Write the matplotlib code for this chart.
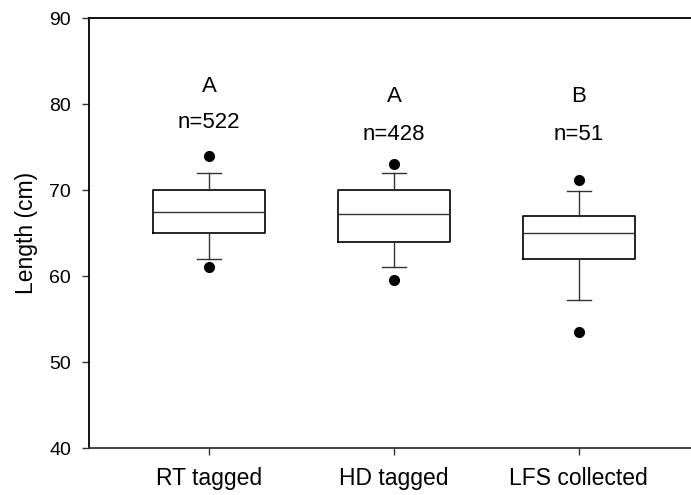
import matplotlib
matplotlib.use("Agg")
import matplotlib.pyplot as plt

plt.rcParams["font.family"] = ["Liberation Sans", "DejaVu Sans"]

# Groups and summary statistics (cm)
groups = ["RT tagged", "HD tagged", "LFS collected"]
medians = [67.5, 67.2, 65.0]
q1 = [65.0, 64.0, 62.0]
q3 = [70.0, 70.0, 67.0]
whisker_low = [62.0, 61.0, 57.2]
whisker_high = [72.0, 72.0, 69.9]
outliers_low = [61.0, 59.5, 53.5]
outliers_high = [74.0, 73.0, 71.2]
letters = ["A", "A", "B"]
letter_y = [82.0, 80.9, 80.9]
counts = [522, 428, 51]
count_y = [77.9, 76.5, 76.5]

stats = []
for i, g in enumerate(groups):
    stats.append({
        "label": g,
        "med": medians[i],
        "q1": q1[i],
        "q3": q3[i],
        "whislo": whisker_low[i],
        "whishi": whisker_high[i],
        "fliers": [outliers_low[i], outliers_high[i]],
    })

fig = plt.figure(figsize=(6.91, 4.95), dpi=100)
ax = fig.add_axes([0.1288, 0.0949, 0.8828, 0.8687])

positions = [1, 2, 3]
ax.bxp(
    stats,
    positions=positions,
    widths=0.605,
    boxprops=dict(color="black", linewidth=1.2),
    medianprops=dict(color="#333333", linewidth=1.0),
    whiskerprops=dict(color="#333333", linewidth=1.0),
    capprops=dict(color="#333333", linewidth=1.0),
    capwidths=0.13,
    flierprops=dict(marker="o", markerfacecolor="black", markeredgecolor="black",
                    markersize=7, linestyle="none"),
)

for x, lt, ly, n, ny in zip(positions, letters, letter_y, counts, count_y):
    ax.text(x, ly, lt, ha="center", va="center", fontsize=16)
    ax.text(x, ny, f"n={n}", ha="center", va="center", fontsize=16)

ax.set_xlim(0.35, 3.65)
ax.set_ylim(40, 90)
ax.set_yticks([40, 50, 60, 70, 80, 90])
ax.set_xticks(positions)
ax.set_xticklabels(groups, fontsize=16.5)
ax.set_ylabel("Length (cm)", fontsize=16.5, labelpad=8)
ax.tick_params(axis="both", direction="out", length=5, width=1,
               color="#333333")
ax.tick_params(axis="x", pad=9)
ax.tick_params(axis="y", pad=8, labelsize=14)
ax.spines["right"].set_visible(False)
for side in ["left", "top", "bottom"]:
    ax.spines[side].set_linewidth(1.3)
ax.spines["bottom"].set_color("#333333")

fig.savefig("out.png", dpi=100)
